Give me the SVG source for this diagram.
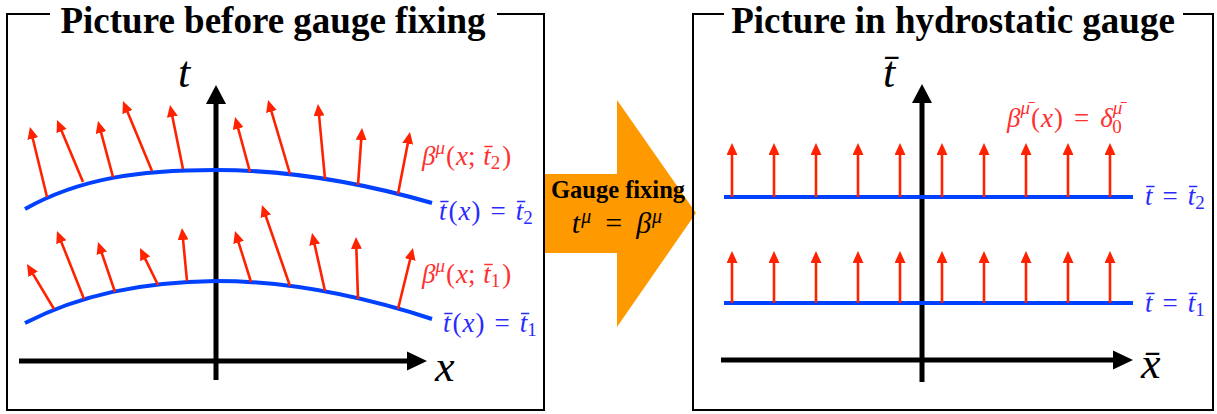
<svg xmlns="http://www.w3.org/2000/svg" width="1217" height="414" viewBox="0 0 1217 414">
<style>
.frame{fill:none;stroke:#000;stroke-width:2}
.title{font-family:"Liberation Serif",serif;font-weight:bold;font-size:37px;fill:#000}
.axis{stroke:#000;stroke-width:5;fill:none}
.head{fill:#000}
.vec{stroke:#ff2200;stroke-width:2.6;fill:none;marker-end:url(#rh)}
.curve{stroke:#0040ff;stroke-width:4;fill:none}
.m{font-family:"Liberation Serif",serif;font-size:27px}
.red{fill:#ff3030}
.blue{fill:#2a2aff}
.i{font-style:italic}
.ax{font-family:"Liberation Serif",serif;font-style:italic;font-size:44px;fill:#000}
</style>
<defs>
<marker id="rh" markerUnits="userSpaceOnUse" markerWidth="12" markerHeight="11" viewBox="0 0 12 11" refX="3" refY="5.5" orient="auto">
<path d="M0,0 L12,5.5 L0,11 z" fill="#ff2200"/>
</marker>
</defs>

<g id="gauge-arrow">
<path d="M545,174 H617 V100 L696,213 L617,327 V253 H545 z" fill="#ff9900"/>
<text x="618" y="198" text-anchor="middle" style="font-family:'Liberation Serif',serif;font-weight:bold;font-size:24.5px">Gauge fixing</text>
<text x="617" y="233" text-anchor="middle" class="m" style="font-size:30px"><tspan class="i">t</tspan><tspan font-size="20" dx="1" dy="-10" class="i">μ</tspan><tspan dx="14" dy="10">=</tspan><tspan class="i" dx="14">β</tspan><tspan font-size="20" dx="1" dy="-10" class="i">μ</tspan></text>
</g>

<g id="panel-before">
<path class="frame" d="M50,14 H7 V410 H544 V14 H497"/>
<text class="title" x="273" y="33" text-anchor="middle">Picture before gauge fixing</text>
</g>

<g id="panel-hydrostatic">
<path class="frame" d="M724,14 H693 V410 H1213 V14 H1183"/>
<text class="title" x="953" y="33" text-anchor="middle">Picture in hydrostatic gauge</text>
</g>

<g id="axes-before">
<line class="axis" x1="216" y1="380" x2="216" y2="102"/>
<path class="head" d="M216,85 L206,104 L226,104 z"/>
<line class="axis" x1="19" y1="361" x2="409" y2="361"/>
<path class="head" d="M427,361 L407,351.5 L407,370.5 z"/>
<text class="ax" x="178" y="87">t</text>
<text class="ax" x="435" y="381">x</text>
</g>

<g id="axes-hydrostatic">
<line class="axis" x1="922" y1="382" x2="922" y2="102"/>
<path class="head" d="M922,84 L912,103 L932,103 z"/>
<line class="axis" x1="721" y1="360" x2="1115" y2="360"/>
<path class="head" d="M1133,360 L1113,350.5 L1113,369.5 z"/>
<text class="ax" x="883" y="87">t̄</text>
<text class="ax" x="1141" y="378">x̄</text>
</g>

<g id="surfaces-before">
<path class="curve" d="M25,209 C80,178 140,170 216,170 C300,170 380,188 432,203"/>
<path class="curve" d="M25,323 C80,295 140,282 216,281 C300,281 380,302 432,319"/>
</g>

<g id="surfaces-hydrostatic">
<line class="curve" x1="724" y1="197" x2="1133" y2="197"/>
<line class="curve" x1="724" y1="303" x2="1133" y2="303"/>
</g>

<g id="connectors">
<g id="vectors-before-upper">
<line class="vec" x1="47" y1="197" x2="32.1" y2="135.7"/>
<line class="vec" x1="83" y1="182" x2="60.5" y2="128.3"/>
<line class="vec" x1="113" y1="177" x2="100.3" y2="129.7"/>
<line class="vec" x1="152" y1="171" x2="126.4" y2="109.3"/>
<line class="vec" x1="183" y1="169" x2="171.8" y2="113.8"/>
<line class="vec" x1="250" y1="172" x2="237.4" y2="125.7"/>
<line class="vec" x1="290" y1="174" x2="270.6" y2="108.6"/>
<line class="vec" x1="325" y1="179" x2="318.8" y2="113"/>
<line class="vec" x1="358" y1="185" x2="361.4" y2="137"/>
<line class="vec" x1="398" y1="194" x2="408.3" y2="140.8"/>
</g>
<g id="vectors-before-lower">
<line class="vec" x1="54" y1="309" x2="31.6" y2="271.7"/>
<line class="vec" x1="84" y1="299" x2="60.3" y2="239.4"/>
<line class="vec" x1="115" y1="292" x2="100.9" y2="250.5"/>
<line class="vec" x1="158" y1="285" x2="143.9" y2="256.1"/>
<line class="vec" x1="187" y1="281" x2="182.8" y2="237"/>
<line class="vec" x1="251" y1="282" x2="237.7" y2="239.6"/>
<line class="vec" x1="290" y1="286" x2="264.9" y2="213.5"/>
<line class="vec" x1="325" y1="291" x2="314" y2="241.8"/>
<line class="vec" x1="358" y1="299" x2="356.3" y2="246"/>
<line class="vec" x1="398" y1="309" x2="410.8" y2="256.7"/>
</g>
<g id="vectors-hydrostatic-upper">
<line class="vec" x1="732" y1="197" x2="732" y2="152"/>
<line class="vec" x1="774" y1="197" x2="774" y2="152"/>
<line class="vec" x1="816" y1="197" x2="816" y2="152"/>
<line class="vec" x1="858" y1="197" x2="858" y2="152"/>
<line class="vec" x1="900" y1="197" x2="900" y2="152"/>
<line class="vec" x1="942" y1="197" x2="942" y2="152"/>
<line class="vec" x1="984" y1="197" x2="984" y2="152"/>
<line class="vec" x1="1026" y1="197" x2="1026" y2="152"/>
<line class="vec" x1="1068" y1="197" x2="1068" y2="152"/>
<line class="vec" x1="1110" y1="197" x2="1110" y2="152"/>
</g>
<g id="vectors-hydrostatic-lower">
<line class="vec" x1="732" y1="303" x2="732" y2="260"/>
<line class="vec" x1="774" y1="303" x2="774" y2="260"/>
<line class="vec" x1="816" y1="303" x2="816" y2="260"/>
<line class="vec" x1="858" y1="303" x2="858" y2="260"/>
<line class="vec" x1="900" y1="303" x2="900" y2="260"/>
<line class="vec" x1="942" y1="303" x2="942" y2="260"/>
<line class="vec" x1="984" y1="303" x2="984" y2="260"/>
<line class="vec" x1="1026" y1="303" x2="1026" y2="260"/>
<line class="vec" x1="1068" y1="303" x2="1068" y2="260"/>
<line class="vec" x1="1110" y1="303" x2="1110" y2="260"/>
</g>
</g>

<g id="labels-before">
<text class="m red" x="422" y="165"><tspan class="i">β</tspan><tspan class="i" font-size="19" dy="-11">μ</tspan><tspan dx="1" dy="11">(</tspan><tspan class="i" dx="1">x</tspan><tspan>; </tspan><tspan class="i" dx="1">t̄</tspan><tspan font-size="19" dy="4">2</tspan><tspan dx="2" dy="-4">)</tspan></text>
<text class="m blue" x="439" y="220"><tspan class="i">t̄</tspan><tspan dx="2">(</tspan><tspan class="i" dx="1">x</tspan><tspan dx="1">)</tspan><tspan dx="10">=</tspan><tspan class="i" dx="10">t̄</tspan><tspan font-size="19" dy="4">2</tspan></text>
<text class="m red" x="422" y="283"><tspan class="i">β</tspan><tspan class="i" font-size="19" dy="-11">μ</tspan><tspan dx="1" dy="11">(</tspan><tspan class="i" dx="1">x</tspan><tspan>; </tspan><tspan class="i" dx="1">t̄</tspan><tspan font-size="19" dy="4">1</tspan><tspan dx="2" dy="-4">)</tspan></text>
<text class="m blue" x="443" y="332"><tspan class="i">t̄</tspan><tspan dx="2">(</tspan><tspan class="i" dx="1">x</tspan><tspan dx="1">)</tspan><tspan dx="10">=</tspan><tspan class="i" dx="10">t̄</tspan><tspan font-size="19" dy="4">1</tspan></text>
</g>

<g id="labels-hydrostatic">
<text class="m red" x="1007" y="127"><tspan class="i">β</tspan><tspan class="i" font-size="19" dy="-13">μ̄</tspan><tspan dx="1" dy="13">(</tspan><tspan class="i" dx="1">x</tspan><tspan dx="1">)</tspan><tspan dx="11">=</tspan><tspan class="i" dx="11">δ</tspan><tspan class="i" font-size="19" dy="-13">μ̄</tspan><tspan font-size="19" dx="-10" dy="19">0</tspan></text>
<text class="m blue" x="1145" y="205"><tspan class="i">t̄</tspan><tspan dx="10">=</tspan><tspan class="i" dx="10">t̄</tspan><tspan font-size="19" dy="4">2</tspan></text>
<text class="m blue" x="1145" y="312"><tspan class="i">t̄</tspan><tspan dx="10">=</tspan><tspan class="i" dx="10">t̄</tspan><tspan font-size="19" dy="4">1</tspan></text>
</g>
</svg>
